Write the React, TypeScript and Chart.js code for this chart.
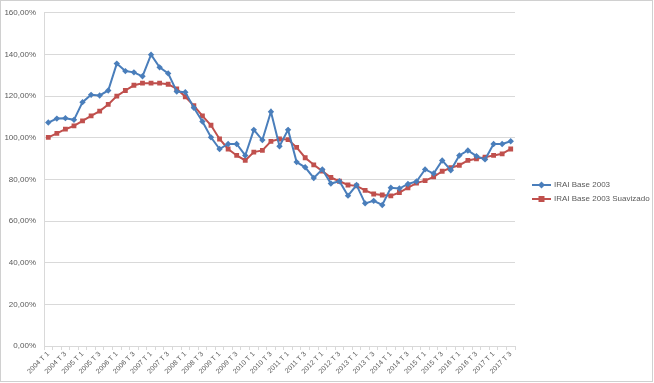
import React, { useEffect, useRef } from "react";
import { Chart, registerables } from "chart.js";

Chart.register(...registerables);

const years = [2004, 2005, 2006, 2007, 2008, 2009, 2010, 2011, 2012, 2013, 2014, 2015, 2016, 2017];
const quarters = [1, 2, 3, 4];
const categories: string[] = [];
years.forEach((y) => quarters.forEach((q) => { if (!(y === 2017 && q === 4)) categories.push(`${y} T ${q}`); }));

const seriesNames = ["IRAI Base 2003", "IRAI Base 2003 Suavizado"];

const irai = [
  107.3, 109.2, 109.4, 108.6, 117.1, 120.6, 120.3, 122.7, 135.6, 132.0,
  131.4, 129.5, 139.9, 133.8, 130.9, 122.2, 121.9, 114.4, 107.8, 100.2,
  94.6, 97.0, 97.0, 91.5, 103.8, 98.9, 112.5, 95.9, 103.8, 88.3,
  85.8, 80.7, 84.8, 78.0, 79.1, 72.2, 77.3, 68.5, 69.7, 67.7,
  76.0, 75.6, 77.8, 79.0, 84.8, 82.8, 89.1, 84.4, 91.5, 93.9,
  91.2, 89.6, 97.0, 97.0, 98.3,
];

const iraiSuav = [
  100.2, 102.1, 104.1, 105.7, 108.1, 110.5, 112.8, 116.0, 120.0, 122.7,
  125.2, 126.2, 126.2, 126.2, 125.7, 123.5, 119.7, 115.4, 110.5, 106.0,
  99.4, 94.6, 91.5, 89.1, 93.1, 93.9, 98.3, 99.4, 99.1, 95.4,
  90.4, 87.0, 84.0, 80.9, 79.1, 77.3, 76.9, 74.7, 73.0, 72.5,
  72.1, 73.7, 76.0, 78.2, 79.4, 81.2, 83.9, 85.6, 86.8, 89.1,
  89.9, 90.7, 91.5, 92.3, 94.6,
];

const BLUE = "#4a7ebb";
const RED = "#c0504d";
const FONT = "'Liberation Sans', 'DejaVu Sans', sans-serif";

const fmt = (v: number) => `${v.toFixed(2).replace(".", ",")}%`;

const legendPlugin = {
  id: "customLegend",
  afterDraw(chart: any) {
    const ctx = chart.ctx;
    const items = [
      { label: seriesNames[0], color: BLUE, style: "diamond", y: 185 },
      { label: seriesNames[1], color: RED, style: "square", y: 199 },
    ];
    ctx.save();
    items.forEach((it) => {
      ctx.strokeStyle = it.color;
      ctx.lineWidth = 2;
      ctx.beginPath();
      ctx.moveTo(532, it.y);
      ctx.lineTo(551, it.y);
      ctx.stroke();
      ctx.fillStyle = it.color;
      ctx.beginPath();
      if (it.style === "diamond") {
        ctx.moveTo(541.5, it.y - 3.5);
        ctx.lineTo(545, it.y);
        ctx.lineTo(541.5, it.y + 3.5);
        ctx.lineTo(538, it.y);
        ctx.closePath();
      } else {
        ctx.rect(538.5, it.y - 3, 6, 6);
      }
      ctx.fill();
      ctx.fillStyle = "#595959";
      ctx.font = `8px ${FONT}`;
      ctx.textBaseline = "middle";
      ctx.textAlign = "left";
      ctx.fillText(it.label, 554, it.y);
    });
    ctx.strokeStyle = "#d0d0d0";
    ctx.lineWidth = 1;
    ctx.strokeRect(0.5, 0.5, chart.width - 2, chart.height - 2);
    ctx.restore();
  },
};

export default function App() {
  const ref = useRef<HTMLCanvasElement | null>(null);
  useEffect(() => {
    document.body.style.margin = "0";
    if (!ref.current) return;
    const chart = new Chart(ref.current, {
      type: "line",
      data: {
        labels: categories,
        datasets: [
          {
            label: seriesNames[0],
            data: irai,
            borderColor: BLUE,
            backgroundColor: BLUE,
            borderWidth: 2,
            pointStyle: "rectRot",
            pointRadius: 3.2,
            pointBorderWidth: 0,
            tension: 0,
          },
          {
            label: seriesNames[1],
            data: iraiSuav,
            borderColor: RED,
            backgroundColor: RED,
            borderWidth: 2,
            pointStyle: "rect",
            pointRadius: 3.4,
            pointBorderWidth: 0,
            tension: 0,
          },
        ],
      },
      options: {
        animation: false,
        responsive: false,
        maintainAspectRatio: false,
        layout: { padding: { top: 9, right: 139, left: 0, bottom: 0 } },
        plugins: { legend: { display: false }, tooltip: { enabled: false } },
        scales: {
          x: {
            type: "category",
            offset: true,
            grid: { display: true, drawOnChartArea: false, offset: true, color: "#d9d9d9", tickLength: 4 },
            border: { color: "#d9d9d9" },
            ticks: {
              autoSkip: false,
              maxRotation: 45,
              minRotation: 45,
              padding: 0,
              color: "#595959",
              font: { size: 7, family: FONT },
              callback: (_v: any, i: number) => (i % 2 === 0 ? categories[i] : ""),
            },
            afterFit: (s: any) => { s.height = 37; },
          },
          y: {
            min: 0,
            max: 160,
            grid: { color: "#d9d9d9", drawTicks: false },
            border: { color: "#d9d9d9" },
            ticks: {
              stepSize: 20,
              padding: 8,
              color: "#595959",
              font: { size: 8, family: FONT },
              callback: (v: any) => fmt(Number(v)),
            },
            afterFit: (s: any) => { s.width = 44; },
          },
        },
      },
      plugins: [legendPlugin],
    });
    return () => chart.destroy();
  }, []);
  return (
    <div style={{ width: 654, height: 383, background: "#fff" }}>
      <canvas ref={ref} width={654} height={383} style={{ display: "block" }} />
    </div>
  );
}
